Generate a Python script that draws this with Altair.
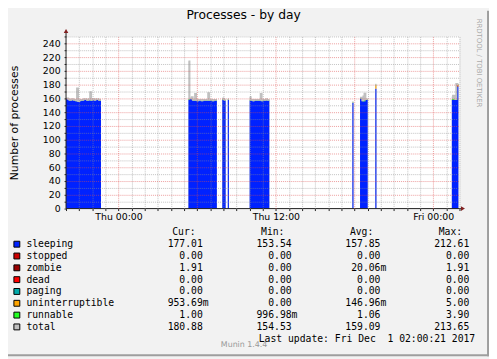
import altair as alt
import pandas as pd

# ---------------- data ----------------
# x: hours after Wed 2017-11-29 20:00 (axis spans 30 h, up to Fri 02:00); samples are 5 minutes apart
samples_per_hour = 12
x_end_hours = 30
seg_first_sample = [0, 112, 143, 148, 168, 262, 269, 283, 353]

sleeping = [
    [159, 159, 158, 157, 157, 158, 158, 157, 157, 156, 171, 155, 156, 157, 157, 157,
     158, 158, 158, 157, 157, 158, 157, 157, 158, 158, 157, 158, 158, 158, 157, 157],
    [158, 159, 159, 158, 157, 157, 157, 157, 156, 157, 157, 157, 156,
     157, 157, 157, 157, 157, 157, 157, 157, 157, 156, 157, 157, 157],
    [158, 158, 157],
    [158],
    [157, 157, 157, 156, 157, 157, 157, 157, 157, 157, 157, 156, 157, 157, 157, 158, 157, 157],
    [153.54],
    [160, 160, 156, 156, 156, 158, 158],
    [174],
    [158, 158, 158, 158, 158, 177.01],
]
runnable = [
    [1, 1, 1, 1, 1, 1, 1, 1, 1, 1, 1, 1, 1, 1, 1, 1,
     1, 1, 1, 1, 1, 1, 1, 1, 1, 1, 1, 1, 1, 1, 1, 1],
    [1, 1, 1, 3.9, 1, 1, 1, 1, 1, 1, 1, 1, 1,
     1, 1, 1, 1, 1, 1, 1, 1, 1, 1, 1, 1, 1],
    [1, 1, 1],
    [1],
    [1, 1, 1, 1, 1, 1, 1, 1, 1, 1, 1, 1, 1, 1, 1, 1, 1, 1],
    [1],
    [1, 1, 1, 1, 1, 1, 1],
    [1],
    [1, 1, 1, 1, 1, 1.0],
]
total = [
    [160, 160, 159, 158, 158, 159, 159, 158, 158, 157, 174.5, 156, 157, 158, 158, 158,
     159, 159, 159, 158, 158, 159, 169, 158, 159, 159, 158, 159, 159, 159, 158, 158],
    [213.65, 160, 160, 162, 158, 158, 166.7, 158, 157, 158, 158, 158, 157,
     158, 158, 158, 158, 158, 167.6, 158, 158, 158, 157, 158, 158, 158],
    [160, 159, 158],
    [159],
    [162, 158, 158, 157, 158, 158, 158, 158, 158, 158, 166.7, 157, 158, 158, 158, 159, 158, 158],
    [154.53],
    [161, 161, 157, 163, 167, 159, 159],
    [180],
    [162, 164, 164, 159, 181, 180.88],
]
# sparse series (zero elsewhere): sample index -> value
uninterruptible_sample = [10, 283, 358]
uninterruptible_value = [2.5, 5.0, 0.95]
zombie_sample = [358]
zombie_value = [1.91]

x_grid_hours = list(range(0, 31))
x_label_hours = [4, 16, 28]
x_labels = ["Thu 00:00", "Thu 12:00", "Fri 00:00"]
y_grid_values = list(range(0, 251, 10))

legend_names = ["sleeping", "stopped", "zombie", "dead", "paging",
                "uninterruptible", "runnable", "total"]
legend_colors = ["#0022ff", "#cc0000", "#990000", "#ff0000", "#00aaaa",
                 "#ffa500", "#22ff22", "#c0c0c0"]
stat_headers = ["Cur:", "Min:", "Avg:", "Max:"]
stat_cur = ["177.01", "0.00", "1.91", "0.00", "0.00", "953.69m", "1.00", "180.88"]
stat_min = ["153.54", "0.00", "0.00", "0.00", "0.00", "0.00", "996.98m", "154.53"]
stat_avg = ["157.85", "0.00", "20.06m", "0.00", "0.00", "146.96m", "1.06", "159.09"]
stat_max = ["212.61", "0.00", "1.91", "0.00", "0.00", "5.00", "3.90", "213.65"]

# ---------------- tables ----------------
unint = dict(zip(uninterruptible_sample, uninterruptible_value))
zomb = dict(zip(zombie_sample, zombie_value))
stack_rows, total_rows = [], []
for s, first in enumerate(seg_first_sample):
    n = len(sleeping[s])
    for i in range(n + 1):          # last row closes the step of the final sample
        k = min(i, n - 1)
        g = first + k
        t = (first + i) / samples_per_hour
        parts = [("sleeping", sleeping[s][k]), ("zombie", zomb.get(g, 0.0)),
                 ("uninterruptible", unint.get(g, 0.0)), ("runnable", runnable[s][k])]
        base = 0.0
        for name, v in parts:
            stack_rows.append(dict(seg=s, t=t, series=name, y0=base, y1=base + v))
            base += v
        total_rows.append(dict(seg=s, t=t, total=total[s][k]))
df_stack = pd.DataFrame(stack_rows)
df_total = pd.DataFrame(total_rows)

leg_rows = []
for r, name in enumerate(legend_names):
    for col, vals in zip(stat_headers, [stat_cur, stat_min, stat_avg, stat_max]):
        v = vals[r]
        leg_rows.append(dict(row=r, name=name, col=col,
                             num=v.rstrip("m"), unit="m" if v.endswith("m") else ""))
df_leg = pd.DataFrame(leg_rows)
df_names = pd.DataFrame({"row": list(range(len(legend_names))), "name": legend_names})
df_head = pd.DataFrame({"col": stat_headers})

# ---------------- chart ----------------
W, H = 400, 175
SANS = "DejaVu Sans"
MONO = "DejaVu Sans Mono"


def xs():
    return alt.Scale(domain=[0, x_end_hours], nice=False, zero=False)


def ys():
    return alt.Scale(domain=[0, 250], nice=False, zero=False)


label_expr = " : ".join(
    f"datum.value == {h} ? '{l}'" for h, l in zip(x_label_hours, x_labels)) + " : ''"

x_axis = alt.Axis(
    orient="bottom", values=x_grid_hours, title=None, domain=False,
    grid=True, gridDash=[1, 1], gridWidth=1,
    gridColor={"condition": {"test": "(datum.value + 2) % 6 == 0", "value": "#DE4F4F"},
               "value": "#8F8F8F"},
    gridOpacity={"condition": {"test": "datum.value == 0", "value": 0}, "value": 0.55},
    ticks=True, tickSize=2, tickColor="#1F1F1F",
    labelExpr=label_expr, labelFont=SANS, labelFontSize=9.5, labelColor="#000000",
    labelPadding=1, labelOverlap=False, labelFlush=False, zindex=1)

y_axis = alt.Axis(
    orient="left", values=y_grid_values, title=None, domain=False,
    grid=True, gridDash=[1, 1], gridWidth=1,
    gridColor={"condition": {"test": "datum.value % 20 == 0", "value": "#DE4F4F"},
               "value": "#8F8F8F"},
    gridOpacity={"condition": {"test": "datum.value == 0", "value": 0}, "value": 0.55},
    ticks=True, tickSize=2, tickColor="#1F1F1F",
    labelExpr="datum.value % 20 == 0 && datum.value <= 240 ? datum.label : ''",
    labelFont=SANS, labelFontSize=9.5, labelColor="#000000",
    labelPadding=4, labelOverlap=False, labelFlush=False, zindex=1)

total_area = alt.Chart(df_total).mark_area(interpolate="step-after", color="#c0c0c0").encode(
    x=alt.X("t:Q", scale=xs(), axis=x_axis),
    y=alt.Y("total:Q", scale=ys(), axis=y_axis, stack=None),
    detail="seg:N",
)

stack_area = alt.Chart(df_stack).mark_area(interpolate="step-after").encode(
    x=alt.X("t:Q", scale=xs(), axis=None),
    y=alt.Y("y1:Q", scale=ys(), axis=None, stack=None),
    y2="y0:Q",
    color=alt.Color("series:N", scale=alt.Scale(domain=legend_names, range=legend_colors),
                    legend=None),
    detail="seg:N",
)

total_line = alt.Chart(df_total).mark_line(
    interpolate="step-after", color="#c0c0c0", strokeWidth=1.8).encode(
    x=alt.X("t:Q", scale=xs(), axis=None),
    y=alt.Y("total:Q", scale=ys(), axis=None, stack=None),
    detail="seg:N",
)

axis_col = "#1F1F1F"
arrow_col = "#801F1F"
y_axis_line = alt.Chart().mark_rule(color=axis_col, strokeWidth=1).encode(
    x=alt.value(0), y=alt.value(H), y2=alt.value(-4))
x_axis_line = alt.Chart().mark_rule(color=axis_col, strokeWidth=1).encode(
    x=alt.value(0), x2=alt.value(402), y=alt.value(H))
y_arrow = alt.Chart().mark_point(shape="triangle-up", filled=True, color=arrow_col,
                                 size=22, opacity=1).encode(x=alt.value(0), y=alt.value(-5.5))
x_arrow = alt.Chart().mark_point(shape="triangle-right", filled=True, color=arrow_col,
                                 size=22, opacity=1).encode(x=alt.value(403.5), y=alt.value(H))


def txt(text, x, y, size, font=SANS, color="#000000", align="center", angle=0):
    return alt.Chart().mark_text(font=font, fontSize=size, color=color, align=align,
                                 baseline="middle", angle=angle).encode(
        x=alt.value(x), y=alt.value(y), text=alt.value(text))


title = txt("Processes - by day", 180.5, -22, 12.5)
y_title = txt("Number of processes", -52, 88, 11, angle=270)
rrd_mark = txt("RRDTOOL / TOBI OETIKER", 420, 27, 7, color="#AAAAAA", angle=90)
munin_mark = txt("Munin 1.4.4", 181, 314, 8, color="#999999")
last_update = txt("Last update: Fri Dec\u00a0 1 02:00:21 2017", 416, 307.5, 9.9,
                  font=MONO, align="right")

row_scale = alt.Scale(domain=[0, 7], range=[211.2, 295.3], nice=False, zero=False)
col_scale = alt.Scale(type="point", domain=stat_headers, range=[139, 410], padding=0)

squares = alt.Chart(df_names).mark_square(size=36, filled=True, stroke="#000000",
                                          strokeWidth=1, opacity=1).encode(
    x=alt.value(-50), y=alt.Y("row:Q", scale=row_scale, axis=None),
    color=alt.Color("name:N", scale=alt.Scale(domain=legend_names, range=legend_colors),
                    legend=None))
names = alt.Chart(df_names).mark_text(font=MONO, fontSize=9.9, align="left",
                                      baseline="middle", color="#000000").encode(
    x=alt.value(-40.3), y=alt.Y("row:Q", scale=row_scale, axis=None), text="name:N")
nums = alt.Chart(df_leg).mark_text(font=MONO, fontSize=9.9, align="right",
                                   baseline="middle", color="#000000").encode(
    x=alt.X("col:N", scale=col_scale, axis=None),
    y=alt.Y("row:Q", scale=row_scale, axis=None), text="num:N")
units = alt.Chart(df_leg).mark_text(font=MONO, fontSize=9.9, align="left",
                                    baseline="middle", color="#000000").encode(
    x=alt.X("col:N", scale=col_scale, axis=None),
    y=alt.Y("row:Q", scale=row_scale, axis=None), text="unit:N")
headers = alt.Chart(df_head).mark_text(font=MONO, fontSize=9.9, align="right",
                                       baseline="middle", color="#000000", dx=-7.3).encode(
    x=alt.X("col:N", scale=col_scale, axis=None), y=alt.value(199.3), text="col:N")

shade_right = alt.Chart().mark_rule(color="#9E9E9E", strokeWidth=2).encode(
    x=alt.value(429), y=alt.value(-26), y2=alt.value(325))
shade_bottom = alt.Chart().mark_rule(color="#9E9E9E", strokeWidth=2).encode(
    x=alt.value(-59), x2=alt.value(430), y=alt.value(324))

chart = alt.layer(
    total_area, stack_area, total_line,
    y_axis_line, x_axis_line, y_arrow, x_arrow,
    title, y_title, rrd_mark, munin_mark, last_update,
    squares, names, nums, units, headers,
    shade_right, shade_bottom,
).resolve_scale(x="independent", y="independent", color="independent").properties(
    width=W, height=H,
    padding={"left": 59, "top": 26, "right": 30, "bottom": 150},
    autosize=alt.AutoSizeParams(type="none"),
    background="#F2F2F2",
).configure_view(fill="#FFFFFF", stroke=None)

chart.save("out.html", embed_options={"renderer": "svg", "actions": False})
